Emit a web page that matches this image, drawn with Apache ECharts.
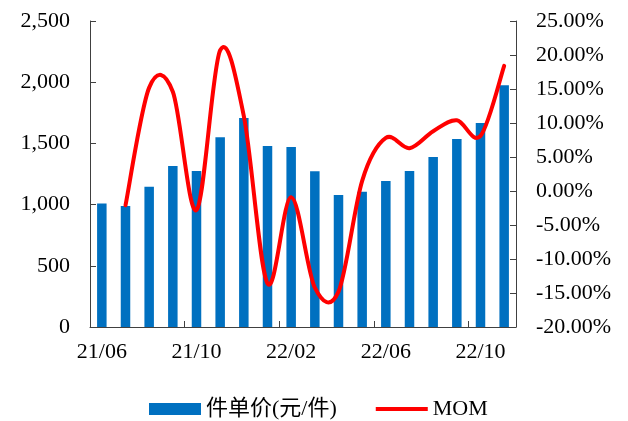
<!DOCTYPE html>
<html>
<head>
<meta charset="utf-8">
<script src="https://cdn.jsdelivr.net/npm/echarts@6/dist/echarts.min.js"></script>
<style>
  html, body { margin: 0; padding: 0; background: #fff; }
  #chart { width: 628px; height: 421px; }
</style>
</head>
<body>
<div id="chart"></div>
<script>
// Monthly categories 21/06 .. 22/11
const months = ['21/06','21/07','21/08','21/09','21/10','21/11','21/12','22/01','22/02','22/03',
                '22/04','22/05','22/06','22/07','22/08','22/09','22/10','22/11'];
// Unit price per item (yuan / item)
const unitPrice = [1010, 988, 1146, 1315, 1274, 1550, 1707, 1479, 1471, 1272,
                   1078, 1105, 1193, 1274, 1389, 1536, 1667, 1975];
// Month-over-month change, percent
const mom = [null, -2.1, 15.2, 14.6, -2.8, 20.7, 11.0, -13.6, -0.9, -14.2,
             -14.8, 1.5, 7.8, 6.3, 8.8, 10.4, 8.1, 18.4];

const serif = "'Liberation Serif', 'Times New Roman', serif";
const legendFont = "'Liberation Serif', 'Noto Sans CJK SC', serif";
const axisColor = '#404040';
const lineColor = '#FF0000';

// Smooth curve through the MOM points (Catmull-Rom style cubic segments),
// positioned with the chart's own coordinate system.
function renderMomCurve(params, api) {
  if (params.dataIndex !== mom.length - 1) return;
  const pts = [];
  mom.forEach((v, i) => { if (v !== null) pts.push(api.coord([i, v])); });
  if (pts.length < 2) return;
  let d = 'M' + pts[0][0] + ',' + pts[0][1];
  for (let i = 0; i < pts.length - 1; i++) {
    const p0 = pts[Math.max(i - 1, 0)];
    const p1 = pts[i];
    const p2 = pts[i + 1];
    const p3 = pts[Math.min(i + 2, pts.length - 1)];
    const c1x = p1[0] + (p2[0] - p0[0]) / 6;
    const c1y = p1[1] + (p2[1] - p0[1]) / 6;
    const c2x = p2[0] - (p3[0] - p1[0]) / 6;
    const c2y = p2[1] - (p3[1] - p1[1]) / 6;
    d += 'C' + c1x + ',' + c1y + ',' + c2x + ',' + c2y + ',' + p2[0] + ',' + p2[1];
  }
  return {
    type: 'path',
    shape: { pathData: d },
    style: { fill: 'none', stroke: lineColor, lineWidth: 4, lineCap: 'round', lineJoin: 'round' }
  };
}

const chart = echarts.init(document.getElementById('chart'), null, { renderer: 'canvas' });
chart.setOption({
  animation: false,
  backgroundColor: '#ffffff',
  grid: { left: 90, right: 112, top: 21, bottom: 94, containLabel: false },
  legend: {
    left: 144,
    top: 393,
    itemGap: 39,
    itemWidth: 52,
    itemHeight: 12,
    textStyle: { fontFamily: legendFont, fontSize: 22, color: '#000' },
    data: [
      { name: '件单价(元/件)', icon: 'rect' },
      { name: 'MOM', icon: 'path://M0,0L1,0L0,0Z M0,12L1,12L0,12Z M0,4L52,4L52,8L0,8Z' }
    ]
  },
  xAxis: {
    type: 'category',
    data: months,
    boundaryGap: true,
    axisLine: { lineStyle: { color: axisColor, width: 1 } },
    axisTick: { show: true, inside: true, length: 6, interval: 3, lineStyle: { color: axisColor } },
    axisLabel: { interval: 3, margin: 14, fontFamily: serif, fontSize: 22, color: '#000' },
    splitLine: { show: false }
  },
  yAxis: [
    {
      type: 'value',
      min: 0, max: 2500, interval: 500,
      axisLine: { show: true, lineStyle: { color: axisColor, width: 1 } },
      axisTick: { show: true, inside: true, length: 6, lineStyle: { color: axisColor } },
      axisLabel: {
        margin: 20, fontFamily: serif, fontSize: 22, color: '#000',
        formatter: v => v.toLocaleString('en-US')
      },
      splitLine: { show: false }
    },
    {
      type: 'value',
      min: -20, max: 25, interval: 5,
      axisLine: { show: true, lineStyle: { color: axisColor, width: 1 } },
      axisTick: { show: true, inside: true, length: 6, lineStyle: { color: axisColor } },
      axisLabel: {
        margin: 20, fontFamily: serif, fontSize: 22, color: '#000',
        formatter: v => v.toFixed(2) + '%'
      },
      splitLine: { show: false }
    }
  ],
  series: [
    {
      name: '件单价(元/件)',
      type: 'bar',
      data: unitPrice,
      barWidth: 9.5,
      itemStyle: { color: '#0070C0' },
      yAxisIndex: 0
    },
    {
      name: 'MOM',
      type: 'custom',
      coordinateSystem: 'cartesian2d',
      xAxisIndex: 0,
      yAxisIndex: 1,
      data: mom.map((v, i) => [i, v]),
      renderItem: renderMomCurve,
      itemStyle: { color: lineColor },
      z: 3
    }
  ]
});
</script>
</body>
</html>
